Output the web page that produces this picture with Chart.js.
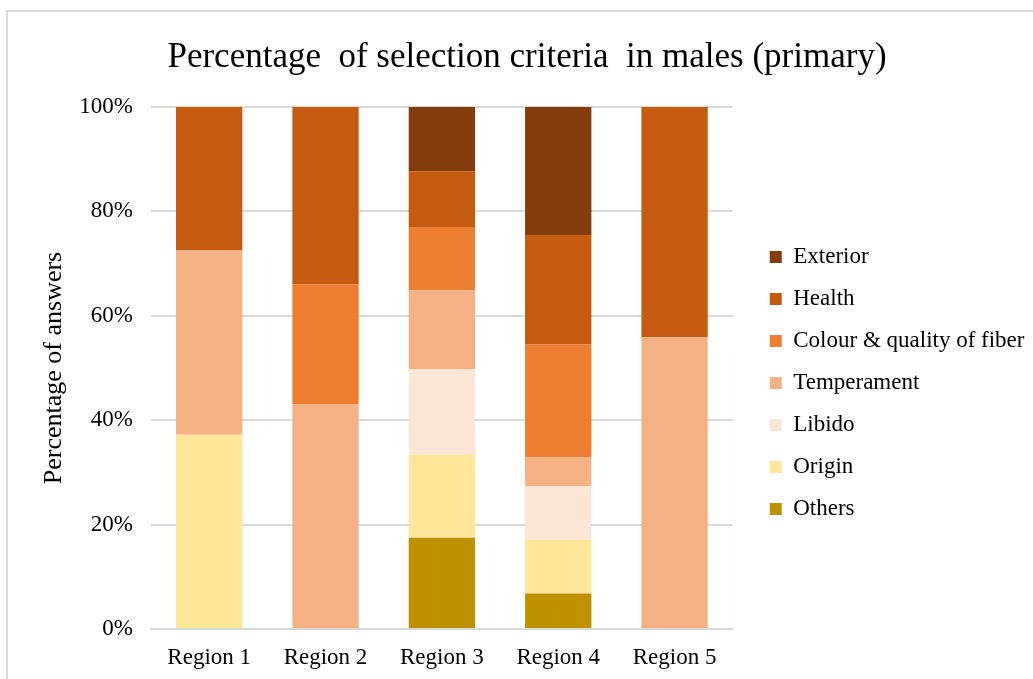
<!DOCTYPE html>
<html>
<head>
<meta charset="utf-8">
<script src="https://cdn.jsdelivr.net/npm/chart.js@4"></script>
<style>
  html, body { margin: 0; padding: 0; background: #fff; }
  #wrap { position: relative; width: 1033px; height: 679px; overflow: hidden; }
  #frame { position: absolute; left: 6px; top: 10px; width: 1100px; height: 700px; border: 2px solid #d9d9d9; pointer-events: none; }
  canvas { position: absolute; left: 0; top: 0; }
</style>
</head>
<body>
<div id="wrap">
  <canvas id="c" width="1033" height="679"></canvas>
  <div id="frame"></div>
</div>
<script>
const categories = ["Region 1", "Region 2", "Region 3", "Region 4", "Region 5"];
const others      = [0, 0, 17.5, 6.8, 0];
const origin      = [37.2, 0, 15.9, 10.3, 0];
const libido      = [0, 0, 16.3, 10.3, 0];
const temperament = [35.3, 43.0, 15.2, 5.5, 55.9];
const colourFiber = [0, 23.0, 12.1, 21.6, 0];
const health      = [27.5, 34.0, 10.7, 21.0, 44.1];
const exterior    = [0, 0, 12.3, 24.5, 0];
const yTicks = [0, 20, 40, 60, 80, 100];

const serif = "'Liberation Serif', 'Times New Roman', serif";

const datasets = [
  { label: "Others", data: others, backgroundColor: "#BF9000" },
  { label: "Origin", data: origin, backgroundColor: "#FFE699" },
  { label: "Libido", data: libido, backgroundColor: "#FBE5D6" },
  { label: "Temperament", data: temperament, backgroundColor: "#F4B183" },
  { label: "Colour & quality of fiber", data: colourFiber, backgroundColor: "#ED7D31" },
  { label: "Health", data: health, backgroundColor: "#C55A11" },
  { label: "Exterior", data: exterior, backgroundColor: "#843C0C" }
].map(d => Object.assign(d, { barPercentage: 0.57, categoryPercentage: 1.0, borderWidth: 0 }));

const layoutTweak = {
  id: "layoutTweak",
  afterLayout(chart) {
    const l = chart.legend;
    if (l) {
      const dy = 25;
      l.left = chart.chartArea.right + 18;
      l.right = chart.width;
      l.width = l.right - l.left;
      l.top += dy; l.bottom += dy;
    }
    const t = chart.titleBlock;
    if (t) {
      const half = (t.right - t.left) / 2, c = 527;
      t.left = c - half; t.right = c + half;
    }
  }
};

new Chart(document.getElementById("c"), {
  type: "bar",
  data: { labels: categories, datasets: datasets },
  plugins: [layoutTweak],
  options: {
    responsive: false,
    animation: false,
    devicePixelRatio: 1,
    layout: { padding: { left: 36, right: 68, top: 37, bottom: 0 } },
    plugins: {
      title: {
        display: true,
        text: "Percentage  of selection criteria  in males (primary)",
        font: { family: serif, size: 35, weight: "normal" },
        color: "#000",
        padding: { top: 0, bottom: 28 }
      },
      legend: {
        position: "right",
        reverse: true,
        labels: {
          font: { family: serif, size: 23 },
          color: "#000",
          boxWidth: 12,
          boxHeight: 12,
          padding: 19
        }
      },
      tooltip: { enabled: false }
    },
    scales: {
      x: {
        stacked: true,
        grid: { display: false, drawTicks: false },
        border: { color: "#d9d9d9", width: 2 },
        ticks: { font: { family: serif, size: 23 }, color: "#000", padding: 15 },
        afterFit: axis => { axis.height = 50; }
      },
      y: {
        stacked: true,
        min: 0,
        max: 100,
        afterBuildTicks: axis => { axis.ticks = yTicks.map(v => ({ value: v })); },
        grid: { color: "#d9d9d9", lineWidth: 2, drawTicks: false },
        border: { display: false },
        ticks: { font: { family: serif, size: 23 }, color: "#000", padding: 18, callback: v => v + "%" },
        title: { display: true, text: "Percentage of answers", font: { family: serif, size: 26 }, color: "#000", padding: { top: 3, bottom: 10 } },
        afterFit: axis => { axis.width = 115; }
      }
    }
  }
});
</script>
</body>
</html>
